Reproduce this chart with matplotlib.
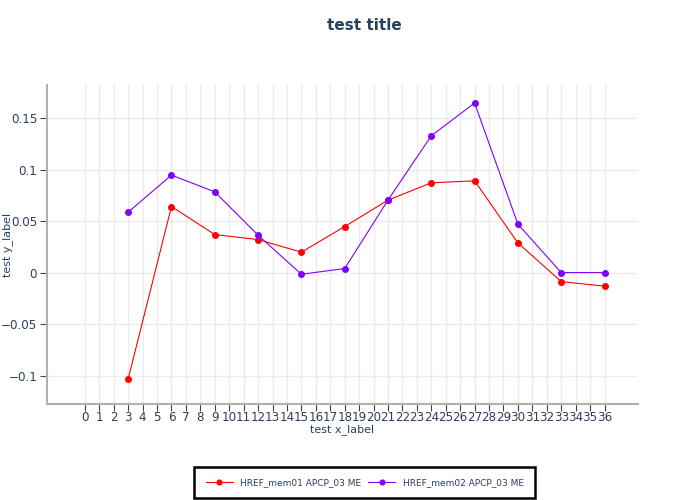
import numpy as np
import matplotlib
matplotlib.use("Agg")
import matplotlib.pyplot as plt

## DATA
lead_hours = [3, 6, 9, 12, 15, 18, 21, 24, 27, 30, 33, 36]
mem01_me = [-0.1032, 0.0641, 0.0369, 0.0320, 0.0198, 0.0447, 0.0703, 0.0871, 0.0890, 0.0288, -0.0087, -0.0132]
mem02_me = [0.0586, 0.0946, 0.0783, 0.0363, -0.0016, 0.0039, 0.0703, 0.1327, 0.1645, 0.0470, 0.0000, 0.0000]
series_labels = ["HREF_mem01 APCP_03 ME", "HREF_mem02 APCP_03 ME"]
series_colors = ["#ff0000", "#8000ff"]
x_ticks = list(range(0, 37))
y_ticks = [-0.1, -0.05, 0, 0.05, 0.1, 0.15]
y_tick_labels = ["\u22120.1", "\u22120.05", "0", "0.05", "0.1", "0.15"]

text_color = "#2a3f5f"

fig = plt.figure(figsize=(7, 5), dpi=100)
ax = fig.add_axes([0.067, 0.192, 0.844, 0.638])

## GRID LINES
ax.set_axisbelow(True)
ax.grid(True, color="#ebebeb", linewidth=1)

## THE TWO SERIES
for vals, lab, col in zip([mem01_me, mem02_me], series_labels, series_colors):
    ax.plot(lead_hours, vals, color=col, linewidth=0.8, marker="o",
            markersize=4, label=lab)

ax.set_xlim(-2.63, 38.3)
ax.set_ylim(-0.1275, 0.182)
ax.set_xticks(x_ticks)
ax.set_xticklabels([str(t) for t in x_ticks])
ax.set_yticks(y_ticks)
ax.set_yticklabels(y_tick_labels)

## AXIS STYLE
for s in ["top", "right"]:
    ax.spines[s].set_visible(False)
for s in ["left", "bottom"]:
    ax.spines[s].set_color("#b0b0b0")
    ax.spines[s].set_linewidth(1.5)
ax.tick_params(axis="both", colors="#444444", labelcolor=text_color,
               labelsize=8.6, length=5, width=0.8, direction="out", pad=2)
ax.tick_params(axis="x", pad=0)

ax.set_xlabel("test x_label", fontsize=8, color=text_color, labelpad=0)
fig.text(0.011, 0.51, "test y_label", rotation=90, ha="center", va="center",
         fontsize=8, color=text_color)
fig.text(0.521, 0.948, "test title", ha="center", va="center",
         fontsize=11, fontweight="bold", color=text_color)

## LEGEND BELOW THE PLOT
leg = fig.legend(loc="center", bbox_to_anchor=(0.521, 0.035), ncol=2,
                 fontsize=6.5, frameon=True, fancybox=False, framealpha=1,
                 handlelength=3, columnspacing=0.8, borderpad=1.25,
                 markerscale=0.85, labelcolor=text_color)
leg.get_frame().set_edgecolor("black")
leg.get_frame().set_linewidth(1.8)

plt.savefig("out.png", dpi=100)
